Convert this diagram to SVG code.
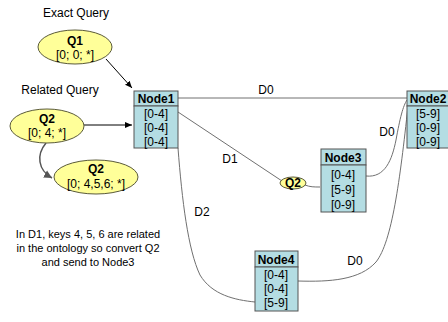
<svg xmlns="http://www.w3.org/2000/svg" width="448" height="322" viewBox="0 0 448 322">
<style>
text{font-family:"Liberation Sans",Arial,sans-serif;font-size:12px;fill:#000}
.b{font-weight:bold}
.c{text-anchor:middle}
.s{font-size:11px}
.nb{fill:#b4dde3;stroke:#555;stroke-width:1}
.nh{fill:#b4dde3;stroke:#555;stroke-width:1}
.el{fill:#ffff99;stroke:#5a5a3a;stroke-width:1}
.ln{fill:none;stroke:#707070;stroke-width:1}
.ar{fill:none;stroke:#000;stroke-width:1}
</style>
<defs>
<marker id="ah" markerWidth="8" markerHeight="8" refX="7" refY="4" orient="auto" markerUnits="userSpaceOnUse">
<path d="M0,1 L7,4 L0,7 z" fill="#000"/>
</marker>
<marker id="gh" markerWidth="10" markerHeight="10" refX="8" refY="5" orient="auto" markerUnits="userSpaceOnUse">
<path d="M0,1 L8,5 L0,9 z" fill="#555"/>
</marker>
</defs>
<rect width="448" height="322" fill="#fff"/>

<g id="connectors">
<path class="ar" d="M106,59 L132,88" marker-end="url(#ah)"/>
<path class="ar" d="M84,125 L132,125" marker-end="url(#ah)"/>
<path d="M46,143 C36,155 38,170 52,178" fill="none" stroke="#555" stroke-width="1.5" marker-end="url(#gh)"/>
<path class="ln" d="M178,98 L407,98"/>
<path class="ln" d="M178,112 L282,181"/>
<path class="ln" d="M305,185 C310,187 314,187 320,187"/>
<path class="ln" d="M366,176 C385,178 392,160 396,140 C400,118 403,106 407,100"/>
<path class="ln" d="M298,281 C330,282 360,280 376,262 C392,242 400,180 408,106"/>
<path class="ln" d="M178,148 C182,200 188,250 200,275 C212,295 235,300 255,302"/>
<text x="266" y="94" class="c">D0</text>
<text x="230" y="163" class="c">D1</text>
<text x="387" y="136" class="c">D0</text>
<text x="202" y="216" class="c">D2</text>
<text x="355" y="265" class="c">D0</text>
</g>

<g id="q1">
<text x="76" y="17" class="c">Exact Query</text>
<ellipse class="el" cx="75" cy="47" rx="37" ry="17"/>
<text x="75" y="45" class="c b">Q1</text>
<text x="75" y="59" class="c">[0; 0; *]</text>
</g>

<g id="q2">
<text x="60" y="94" class="c">Related Query</text>
<ellipse class="el" cx="47" cy="126" rx="37" ry="17"/>
<text x="47" y="123" class="c b">Q2</text>
<text x="47" y="137" class="c">[0; 4; *]</text>
</g>

<g id="q2b">
<ellipse class="el" cx="96" cy="177" rx="42" ry="17"/>
<text x="96" y="173" class="c b">Q2</text>
<text x="96" y="188" class="c">[0; 4,5,6; *]</text>
</g>

<g id="note">
<text x="88" y="238" class="c s">In D1, keys 4, 5, 6 are related</text>
<text x="88" y="252" class="c s">in the ontology so convert Q2</text>
<text x="88" y="266" class="c s">and send to Node3</text>
</g>

<g id="q2c">
<ellipse class="el" cx="293" cy="183" rx="13" ry="6"/>
<text x="293" y="187" class="c b">Q2</text>
</g>

<g id="node1">
<rect class="nh" x="134" y="91" width="44" height="15"/>
<rect class="nb" x="134" y="106" width="44" height="42"/>
<text x="156" y="103" class="c b">Node1</text>
<text x="156" y="118" class="c">[0-4]</text>
<text x="156" y="132" class="c">[0-4]</text>
<text x="156" y="146" class="c">[0-4]</text>
</g>

<g id="node2">
<rect class="nh" x="407" y="91" width="44" height="15"/>
<rect class="nb" x="407" y="106" width="44" height="42"/>
<text x="428" y="103" class="c b">Node2</text>
<text x="428" y="118" class="c">[5-9]</text>
<text x="428" y="132" class="c">[0-9]</text>
<text x="428" y="146" class="c">[0-9]</text>
</g>

<g id="node3">
<rect class="nh" x="321" y="149" width="45" height="16"/>
<rect class="nb" x="321" y="165" width="45" height="47"/>
<text x="343" y="162" class="c b">Node3</text>
<text x="343" y="179" class="c">[0-4]</text>
<text x="343" y="194" class="c">[5-9]</text>
<text x="343" y="209" class="c">[0-9]</text>
</g>

<g id="node4">
<rect class="nh" x="255" y="251" width="43" height="16"/>
<rect class="nb" x="255" y="267" width="43" height="44"/>
<text x="276" y="264" class="c b">Node4</text>
<text x="276" y="279" class="c">[0-4]</text>
<text x="276" y="293" class="c">[0-4]</text>
<text x="276" y="307" class="c">[5-9]</text>
</g>
</svg>
